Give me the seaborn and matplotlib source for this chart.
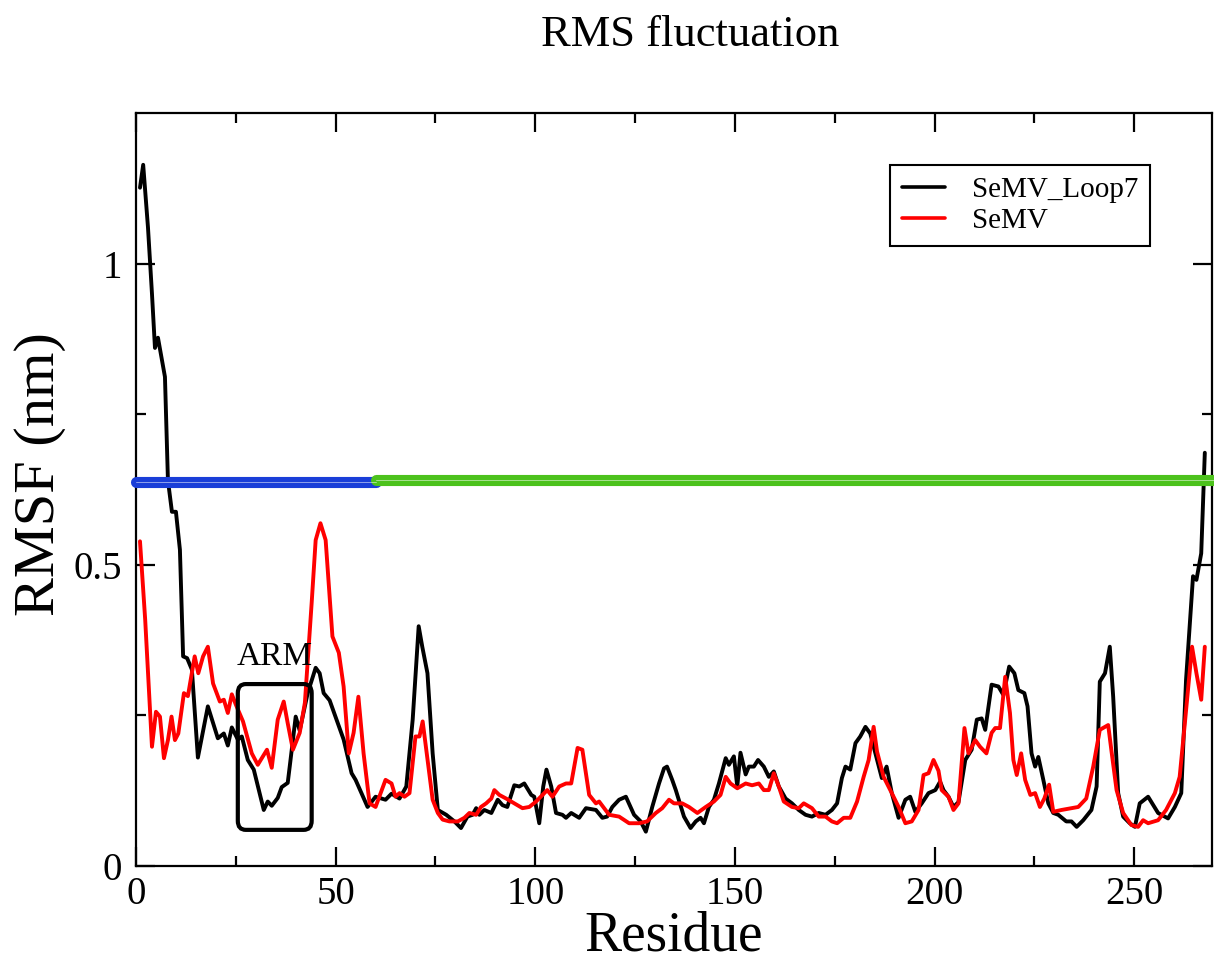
import matplotlib
matplotlib.use("Agg")
import matplotlib.pyplot as plt
import pandas as pd
import seaborn as sns
from matplotlib.patches import FancyBboxPatch
from matplotlib.ticker import FixedLocator, MultipleLocator

# --- data ---
loop7_res = [1, 1.8, 3, 4, 4.75, 5.5, 7.25, 8, 9, 10, 11, 11.8, 12.8, 14, 15.5, 18, 20.5, 22, 23, 24,
             25.5, 26.5, 28, 29.5, 32, 33, 34, 35.5, 36.5, 38, 38.5, 40, 41, 43, 45, 46, 47, 48.5, 52, 54,
             55, 58, 60, 62.5, 64, 66, 67.7, 69.3, 70.8, 71.7, 73, 74.3, 75.6, 77.7, 79.75, 81.4, 83, 84.3,
             85.2, 86, 87.25, 89, 90.6, 91.8, 93, 94.75, 96, 97.25, 99, 99.75, 101, 102, 102.8, 104, 105.2,
             106.8, 107.7, 109, 111, 112.7, 115.2, 116.8, 118, 119.3, 121, 122.7, 124.75, 126.4, 127.7,
             129.3, 131, 132.25, 133, 134.3, 135.2, 137.25, 138.9, 140.2, 141.4, 142.25, 143.5, 144.75, 146,
             147.7, 148.5, 149.75, 150.6, 151.4, 152.7, 153.5, 154.75, 155.8, 157.25, 158.5, 159.75, 161,
             162.7, 164.3, 166, 167.7, 169.3, 171, 172.7, 174.3, 175.6, 176.8, 177.7, 178.9, 180.2, 181.4,
             182.7, 183.9, 185.2, 186.8, 188, 189.3, 191, 192.7, 193.9, 195.2, 196.8, 198.5, 200.2, 201.4,
             202.25, 203.5, 204.75, 206, 207.7, 209.3, 210.6, 211.8, 212.7, 214.3, 216, 217.25, 218.7, 220,
             221, 222.5, 223.3, 224.3, 225.2, 226, 227.25, 228.5, 229.75, 231, 233, 234.3, 235.6, 237.25,
             239.3, 240.6, 241.4, 242.7, 243.9, 244.75, 246, 247.25, 248.9, 250.2, 251.4, 253.5, 256, 258.5,
             260.2, 261.8, 263, 264.75, 265.6, 266.8, 267.7]
loop7_rmsf = [1.126, 1.164, 1.06, 0.95, 0.86, 0.877, 0.812, 0.64, 0.588, 0.588, 0.525, 0.348, 0.345, 0.326,
              0.18, 0.265, 0.212, 0.22, 0.2, 0.23, 0.21, 0.215, 0.176, 0.16, 0.093, 0.107, 0.1, 0.113, 0.131,
              0.138, 0.165, 0.248, 0.225, 0.287, 0.329, 0.32, 0.287, 0.275, 0.21, 0.154, 0.143, 0.098, 0.115,
              0.11, 0.12, 0.112, 0.132, 0.243, 0.398, 0.364, 0.32, 0.187, 0.093, 0.085, 0.074, 0.063, 0.082,
              0.085, 0.096, 0.085, 0.093, 0.088, 0.11, 0.101, 0.098, 0.134, 0.132, 0.137, 0.118, 0.115, 0.071,
              0.132, 0.16, 0.132, 0.088, 0.085, 0.08, 0.088, 0.08, 0.096, 0.093, 0.08, 0.082, 0.098, 0.11,
              0.115, 0.085, 0.074, 0.057, 0.098, 0.137, 0.162, 0.165, 0.143, 0.126, 0.082, 0.063, 0.074, 0.08,
              0.071, 0.098, 0.11, 0.137, 0.179, 0.168, 0.182, 0.132, 0.188, 0.152, 0.165, 0.165, 0.176, 0.165,
              0.148, 0.157, 0.132, 0.112, 0.104, 0.093, 0.085, 0.082, 0.088, 0.085, 0.093, 0.104, 0.146, 0.165,
              0.16, 0.204, 0.215, 0.231, 0.22, 0.187, 0.146, 0.165, 0.121, 0.08, 0.11, 0.115, 0.09, 0.104,
              0.121, 0.126, 0.14, 0.126, 0.115, 0.098, 0.106, 0.176, 0.193, 0.243, 0.245, 0.226, 0.301, 0.298,
              0.284, 0.331, 0.32, 0.292, 0.287, 0.265, 0.187, 0.165, 0.181, 0.143, 0.104, 0.088, 0.085, 0.074,
              0.074, 0.065, 0.076, 0.093, 0.132, 0.306, 0.32, 0.364, 0.281, 0.121, 0.082, 0.071, 0.065, 0.104,
              0.115, 0.088, 0.079, 0.098, 0.121, 0.309, 0.481, 0.475, 0.519, 0.686]

semv_res = [1, 2.3, 4, 5, 6, 7, 8, 8.9, 9.75, 10.6, 12, 13, 14.7, 15.6, 16.8, 18, 19.3, 21, 22, 23, 24, 25,
            26.8, 29, 30.5, 32.8, 34, 35.5, 37, 38, 39.3, 41, 42.3, 44, 45, 46.2, 47.5, 49.2, 50.8, 52, 53.3,
            54.5, 55.7, 57, 58.5, 60, 62.5, 64, 65, 66, 67.25, 68.5, 70, 71, 71.8, 72.7, 74.3, 75.6, 76.8,
            78.5, 80.6, 82.25, 83.5, 85.2, 86.4, 87.7, 89, 89.75, 91, 92.7, 94.75, 96.8, 98.5, 100.2, 101.8,
            103, 104.3, 106, 107.7, 109, 110.6, 111.8, 113.5, 115.2, 116, 118.5, 121, 123.5, 126, 128, 130.2,
            131.8, 133.5, 134.75, 136.8, 138.5, 140.6, 142.7, 144.75, 146.4, 147.7, 148.9, 150.6, 152.7,
            154.3, 156, 157.25, 158.5, 159.75, 161, 162.25, 164.3, 166, 167.25, 169.3, 171, 172.7, 174.3,
            175.6, 177.25, 178.9, 180.6, 182.25, 183.5, 184.75, 185.6, 187.25, 189.3, 191, 192.7, 194.3, 196,
            197.25, 198.5, 199.75, 201, 201.8, 203.5, 204.75, 206, 207.5, 208.5, 210.2, 211.4, 213, 214.3,
            215.2, 216.4, 217.7, 218.9, 219.75, 220.6, 221.7, 222.7, 224, 225.2, 226.4, 227.5, 228.7, 229.75,
            231.8, 234.3, 236, 238, 239.75, 241.4, 243.5, 244.3, 245.6, 247.25, 249.3, 251, 252.25, 253.5,
            256, 258, 260.2, 261.4, 262.7, 264.5, 265.6, 266.8, 267.7]
semv_rmsf = [0.539, 0.409, 0.198, 0.256, 0.248, 0.179, 0.209, 0.248, 0.209, 0.22, 0.287, 0.282, 0.348, 0.32,
             0.348, 0.364, 0.303, 0.273, 0.276, 0.254, 0.285, 0.268, 0.24, 0.187, 0.168, 0.193, 0.163, 0.243,
             0.273, 0.237, 0.193, 0.221, 0.271, 0.437, 0.541, 0.569, 0.541, 0.381, 0.354, 0.298, 0.187, 0.221,
             0.281, 0.187, 0.104, 0.098, 0.143, 0.137, 0.115, 0.121, 0.115, 0.121, 0.215, 0.215, 0.24, 0.193,
             0.11, 0.088, 0.077, 0.074, 0.074, 0.08, 0.088, 0.085, 0.098, 0.104, 0.112, 0.126, 0.118, 0.112,
             0.104, 0.096, 0.098, 0.107, 0.118, 0.126, 0.115, 0.132, 0.137, 0.137, 0.196, 0.193, 0.118, 0.104,
             0.107, 0.085, 0.082, 0.071, 0.071, 0.074, 0.088, 0.096, 0.11, 0.104, 0.104, 0.098, 0.088, 0.098,
             0.107, 0.118, 0.148, 0.137, 0.129, 0.137, 0.134, 0.137, 0.126, 0.126, 0.154, 0.132, 0.107, 0.098,
             0.096, 0.104, 0.096, 0.082, 0.082, 0.074, 0.071, 0.08, 0.08, 0.107, 0.148, 0.176, 0.231, 0.19,
             0.148, 0.121, 0.098, 0.071, 0.074, 0.093, 0.151, 0.154, 0.176, 0.158, 0.126, 0.115, 0.093, 0.104,
             0.229, 0.187, 0.209, 0.198, 0.187, 0.221, 0.229, 0.229, 0.314, 0.254, 0.176, 0.151, 0.187, 0.143,
             0.118, 0.121, 0.098, 0.112, 0.135, 0.09, 0.093, 0.096, 0.098, 0.112, 0.165, 0.226, 0.234, 0.192,
             0.126, 0.088, 0.068, 0.065, 0.076, 0.071, 0.076, 0.093, 0.121, 0.148, 0.237, 0.364, 0.32, 0.276,
             0.364]

# reference bar across the plot (two coloured segments)
band_y = [0.638, 0.641]
band_x = [(0, 60), (60, 270)]
band_colors = ["#1a3ed8", "#4cc21c"]

# ARM box region
arm_x = (25.5, 44)
arm_y = (0.06, 0.302)

df = pd.concat([
    pd.DataFrame({"Residue": loop7_res, "RMSF": loop7_rmsf, "System": "SeMV_Loop7"}),
    pd.DataFrame({"Residue": semv_res, "RMSF": semv_rmsf, "System": "SeMV"}),
])

sns.set_style("ticks")
plt.rcParams["font.family"] = ["Liberation Serif", "DejaVu Serif"]
plt.rcParams.update({"text.color": "black", "axes.labelcolor": "black",
                     "xtick.color": "black", "ytick.color": "black",
                     "axes.edgecolor": "black"})

fig = plt.figure(figsize=(12.14, 9.6), dpi=100)
ax = fig.add_axes([136 / 1214, 1 - 866 / 960, 1076 / 1214, 753 / 960])

sns.lineplot(data=df, x="Residue", y="RMSF", hue="System",
             palette={"SeMV_Loop7": "black", "SeMV": "#ff0000"},
             estimator=None, sort=False, linewidth=2.8, ax=ax)

# horizontal bars
for (x0, x1), yv, col in zip(band_x, band_y, band_colors):
    ax.plot([x0, x1], [yv, yv], color=col, lw=8, solid_capstyle="round",
            clip_on=False, zorder=5)
    ax.plot([x0, x1], [yv, yv], color="white", lw=0.6, alpha=0.6,
            clip_on=False, zorder=6)

# ARM box
box = FancyBboxPatch((arm_x[0], arm_y[0]), arm_x[1] - arm_x[0], arm_y[1] - arm_y[0],
                     boxstyle="round,pad=0,rounding_size=2", mutation_aspect=0.0075,
                     fill=False, edgecolor="black", linewidth=3, zorder=7)
ax.add_patch(box)
ax.text(sum(arm_x) / 2, 0.347, "ARM", ha="center", va="center", fontsize=24)

ax.set_xlim(0, 269.5)
ax.set_ylim(0, 1.25)
ax.xaxis.set_major_locator(MultipleLocator(50))
ax.xaxis.set_minor_locator(MultipleLocator(25))
ax.yaxis.set_major_locator(FixedLocator([0, 0.5, 1]))
ax.yaxis.set_minor_locator(FixedLocator([0.25, 0.75]))
ax.set_yticklabels(["0", "0.5", "1"])
ax.tick_params(which="both", direction="in", top=True, right=True, width=1.6, colors="black")
ax.tick_params(which="major", length=14, labelsize=28)
ax.tick_params(which="minor", length=7)
ax.tick_params(axis="x", pad=7)
ax.tick_params(axis="y", pad=10)
for sp in ax.spines.values():
    sp.set_linewidth(1.6)

ax.set_xlabel("Residue", fontsize=40, va="center")
ax.set_ylabel("RMSF (nm)", fontsize=42, va="center")
ax.xaxis.set_label_coords(0.5, -0.093)
ax.yaxis.set_label_coords(-0.089, 0.52)

leg = ax.legend(loc="upper left", bbox_to_anchor=(890 / 1214, 1 - 165 / 960),
                bbox_transform=fig.transFigure, fontsize=21, frameon=True, fancybox=False,
                edgecolor="black", framealpha=1, borderaxespad=0, borderpad=0.4,
                handlelength=1.5, handletextpad=0.9, labelspacing=0.15, title=None)
leg.get_frame().set_linewidth(1.5)
for line in leg.get_lines():
    line.set_linewidth(2.6)

fig.text(690 / 1214, 1 - 35 / 960, "RMS fluctuation", ha="center", va="center", fontsize=32)

fig.savefig("out.png", dpi=100, facecolor="white")
